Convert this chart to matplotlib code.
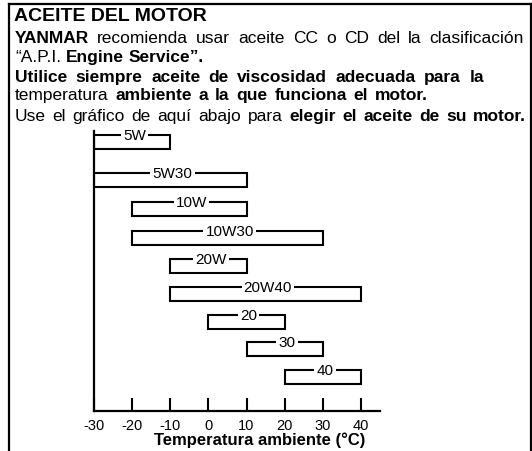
import numpy as np
import matplotlib
matplotlib.use('Agg')
import matplotlib.pyplot as plt
from matplotlib.lines import Line2D

plt.rcParams['font.family'] = ['Liberation Sans', 'DejaVu Sans']
plt.rcParams['axes.unicode_minus'] = False

# --- data ---
title = 'ACEITE DEL MOTOR'
# (text, bold) segments for each line of the paragraph
body_lines = [
    [('YANMAR', True), ('recomienda usar aceite CC o CD del la clasificación', False)],
    [('“A.P.I.', False), ('Engine Service”.', True)],
    [('Utilice siempre aceite de viscosidad adecuada para la', True)],
    [('temperatura', False), ('ambiente a la que funciona el motor.', True)],
    [('Use el gráfico de aquí abajo para', False), ('elegir el aceite de su motor.', True)],
]
grades = ['5W', '5W30', '10W', '10W30', '20W', '20W40', '20', '30', '40']
t_min = [-30, -30, -20, -20, -10, -10, 0, 10, 20]
t_max = [-10, 10, 10, 30, 10, 40, 20, 30, 40]
temp_ticks = [-30, -20, -10, 0, 10, 20, 30, 40]
xlabel = 'Temperatura ambiente (°C)'

# --- layout (pixels) ---
W, H = 532, 452
line_base = [43, 62, 82, 100, 121]
line_right = [524, None, 484, 428, 526]   # justify to these right edges
text_left = 15
row_y = [143, 181, 210, 239, 267, 295, 322.5, 350, 378]
bar_h = 14


def fx(x):
    return x / W


def fy(y):
    return 1 - y / H


fig = plt.figure(figsize=(W / 100, H / 100), dpi=100)
renderer = fig.canvas.get_renderer()

# frame round the page
for xs, ys in [([9, 531], [5, 5]), ([9, 9], [5, 452]), ([531, 531], [5, 452])]:
    fig.add_artist(Line2D([fx(x) for x in xs], [fy(y) for y in ys],
                          transform=fig.transFigure, color='black', lw=1.6))

fig.text(fx(text_left - 1), fy(21), title, fontsize=14, weight='bold',
         va='baseline', ha='left')

body_size = 12.5


def text_width(s, bold):
    t = fig.text(0, 0, s, fontsize=body_size, weight='bold' if bold else 'normal')
    w = t.get_window_extent(renderer).width
    t.remove()
    return w


space_w = text_width('a a', False) - text_width('aa', False)

for segs, base, right in zip(body_lines, line_base, line_right):
    words = []
    for s, bold in segs:
        words += [(w, bold) for w in s.split(' ')]
    widths = [text_width(w, b) for w, b in words]
    if right is None or len(words) < 2:
        gap = space_w
    else:
        gap = (right - text_left - sum(widths)) / (len(words) - 1)
    x = text_left
    for (w, bold), wd in zip(words, widths):
        fig.text(fx(x), fy(base), w, fontsize=body_size,
                 weight='bold' if bold else 'normal', va='baseline', ha='left')
        x += wd + gap

# --- chart ---
ax_left, ax_right, ax_top, ax_bottom = 94, 380, 132, 412
ax = fig.add_axes([fx(ax_left), fy(ax_bottom), fx(ax_right - ax_left),
                   (ax_bottom - ax_top) / H])
ax.set_xlim(-30, 45)
ax.set_ylim(ax_bottom, ax_top)

widths = np.subtract(t_max, t_min)
ax.barh(row_y, widths, left=t_min, height=bar_h, fill=False,
        edgecolor='black', linewidth=1.5)

for g, a, b, y in zip(grades, t_min, t_max, row_y):
    ax.text((a + b) / 2 + 0.6, y - bar_h / 2, g, ha='center', va='center',
            fontsize=11,
            bbox=dict(facecolor='white', edgecolor='none', pad=1.5))

ax.set_xticks(temp_ticks)
ax.set_xticklabels([str(t) for t in temp_ticks])
ax.set_yticks([])
ax.tick_params(axis='x', direction='in', length=9.5, width=1.5, pad=5,
               labelsize=10.5)
for s in ['top', 'right']:
    ax.spines[s].set_visible(False)
ax.spines['left'].set_linewidth(1.6)
ax.spines['bottom'].set_linewidth(1.6)

fig.text(fx(260), fy(440), xlabel, fontsize=12, weight='bold',
         ha='center', va='center')

fig.savefig('out.png', dpi=100)
